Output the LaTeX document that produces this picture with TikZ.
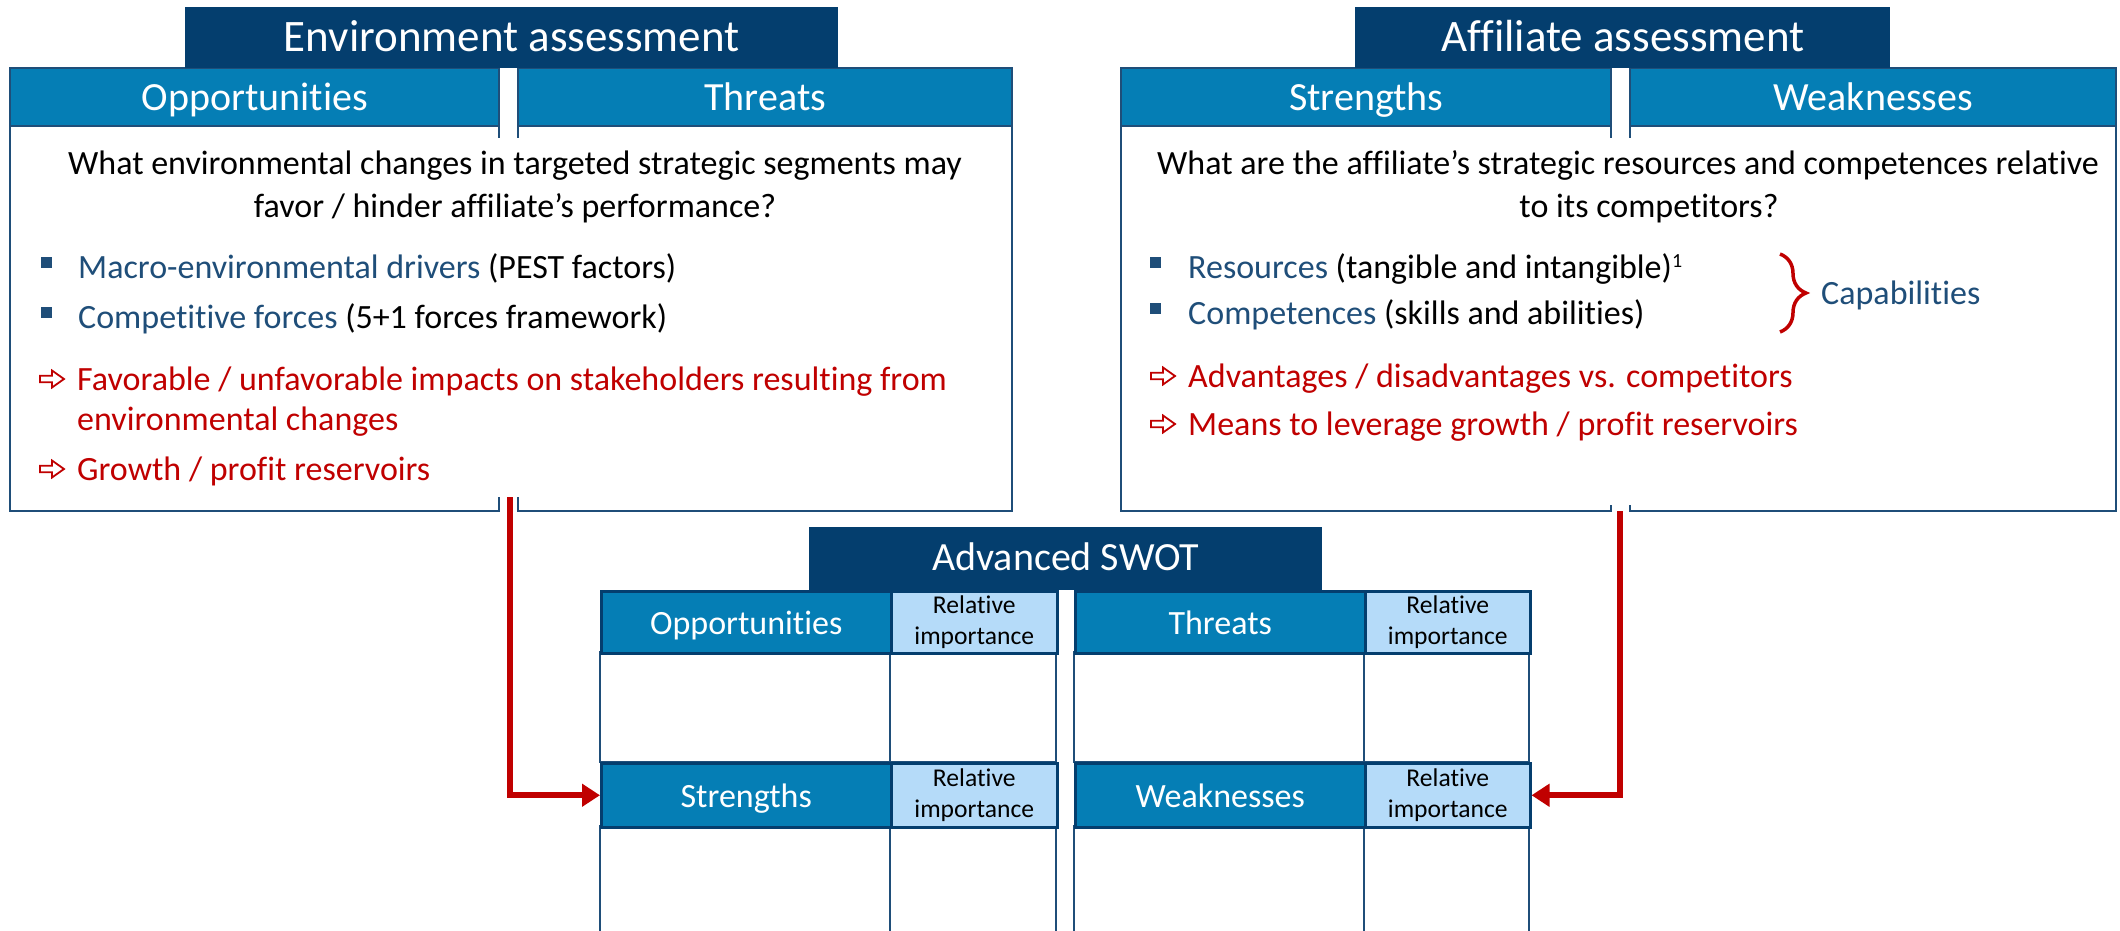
\documentclass[tikz,border=0pt]{standalone}
\usepackage{fontspec}
\setmainfont{Carlito}[Ligatures={NoCommon,NoRequired},Contextuals=NoAlternate]
\usetikzlibrary{arrows.meta,decorations.pathreplacing,calc}
\definecolor{darknavy}{HTML}{043E6E}
\definecolor{midblue}{HTML}{057EB5}
\definecolor{lightblue}{HTML}{B5DBF9}
\definecolor{framecol}{HTML}{1F4E79}
\definecolor{textnavy}{HTML}{1F4E79}
\definecolor{redc}{HTML}{C00000}
\begin{document}
\begin{tikzpicture}[x=1pt,y=-1pt,
  titlebox/.style={fill=darknavy, text=white, inner sep=0pt, anchor=north west,
    font=\fontsize{45}{54}\selectfont, text height=44pt, text depth=17pt},
  band/.style={fill=midblue, text=white, inner sep=0pt, anchor=north west,
    font=\fontsize{40}{48}\selectfont, text height=42pt, text depth=16pt},
  frameline/.style={draw=framecol, line width=2pt},
  bodytext/.style={inner sep=0pt, font=\fontsize{34}{41}\selectfont},
  redtext/.style={bodytext, text=redc, anchor=base west},
  bultext/.style={bodytext, anchor=base west},
  hdrcell/.style={fill=midblue, draw=darknavy, line width=2.5pt, text=white, inner sep=0pt,
    anchor=north west, font=\fontsize{34}{41}\selectfont, text height=43pt, text depth=19pt},
  relcell/.style={fill=lightblue, draw=darknavy, line width=2.5pt, text=black, inner sep=0pt,
    anchor=north west, align=center, font=\fontsize{25.6}{31}\selectfont},
  bodycell/.style={draw=framecol, line width=2pt, fill=white},
  redarrow/.style={draw=redc, line width=6pt, -{Triangle[length=18pt,width=22pt]}},
  harrow/.pic={\draw[redc, line width=1.8pt, fill=white, line join=miter]
    (-12,-3.2) -- (0,-3.2) -- (0,-8.5) -- (12,0) -- (0,8.5) -- (0,3.2) -- (-12,3.2) -- cycle;}
]
\useasboundingbox (0,0) rectangle (2120,931);
\fill[white] (0,0) rectangle (2120,931);
\clip (0,0) rectangle (2120,931);

% ---------- Environment assessment ----------
\node[band, minimum width=489pt] (opp) at (10,68) {Opportunities};
\node[band, minimum width=494pt] (thr) at (518,68) {Threats};
\draw[frameline] (opp.south west) -- (opp.south east);
\draw[frameline] (thr.south west) -- (thr.south east);
\draw[frameline] (499,138) -- (499,68) -- (10,68) -- (10,511) -- (499,511) -- (499,497);
\draw[frameline] (518,138) -- (518,68) -- (1012,68) -- (1012,511) -- (518,511) -- (518,497);
\node[titlebox, minimum width=653pt] (envT) at (185,7) {Environment assessment};

\node[bodytext, anchor=base] (q1a) at (515,175) {What environmental changes in targeted strategic segments may};
\node[bodytext, anchor=base] (q1b) at (515,217) {favor / hinder affiliate’s performance?};
\fill[textnavy] (41,257) rectangle (52,268);
\node[bultext] (m1) at (78,278) {\textcolor{textnavy}{Macro-environmental drivers} (PEST factors)};
\fill[textnavy] (41,307) rectangle (52,318);
\node[bultext] (m2) at (78,328) {\textcolor{textnavy}{Competitive forces} (5+1 forces framework)};
\pic at (52,379) {harrow};
\node[redtext] (r1) at (77,390) {Favorable / unfavorable impacts on stakeholders resulting from};
\node[redtext] (r1b) at (77,430) {environmental changes};
\pic at (52,469) {harrow};
\node[redtext] (r2) at (77,480) {Growth / profit reservoirs};

% ---------- Affiliate assessment ----------
\node[band, minimum width=490pt] (str) at (1121,68) {Strengths};
\node[band, minimum width=486pt] (wea) at (1630,68) {Weaknesses};
\draw[frameline] (str.south west) -- (str.south east);
\draw[frameline] (wea.south west) -- (wea.south east);
\draw[frameline] (1611,138) -- (1611,68) -- (1121,68) -- (1121,511) -- (1611,511) -- (1611,505);
\draw[frameline] (1630,138) -- (1630,68) -- (2116,68) -- (2116,511) -- (1630,511) -- (1630,505);
\node[titlebox, minimum width=535pt] (affT) at (1355,7) {Affiliate assessment};

\node[bodytext, anchor=base] (q2a) at (1628,175) {What are the affiliate’s strategic resources and competences relative};
\node[bodytext, anchor=base] (q2b) at (1649,217) {to its competitors?};
\fill[textnavy] (1150,257) rectangle (1161,268);
\node[bultext] (s1) at (1188,278) {\textcolor{textnavy}{Resources} (tangible and intangible)\raisebox{11pt}{\fontsize{20}{24}\selectfont 1}};
\fill[textnavy] (1150,303) rectangle (1161,314);
\node[bultext] (s2) at (1188,324) {\textcolor{textnavy}{Competences} (skills and abilities)};
\draw[redc, line width=3.5pt, decorate, decoration={brace, amplitude=26pt}] (1780,254) -- (1780,332);
\node[bultext, text=textnavy] (cap) at (1821,304) {Capabilities};
\pic at (1163,376) {harrow};
\node[redtext] (a1) at (1188,387) {Advantages / disadvantages vs. competitors};
\pic at (1163,424) {harrow};
\node[redtext] (a2) at (1188,435) {Means to leverage growth / profit reservoirs};

% ---------- Advanced SWOT ----------
\draw[bodycell] (600,652) rectangle (890,762);
\draw[bodycell] (890,652) rectangle (1056,762);
\draw[bodycell] (600,826) rectangle (890,960);
\draw[bodycell] (890,826) rectangle (1056,960);
\draw[bodycell] (1074,652) rectangle (1364,762);
\draw[bodycell] (1364,652) rectangle (1529,762);
\draw[bodycell] (1074,826) rectangle (1364,960);
\draw[bodycell] (1364,826) rectangle (1529,960);

\node[titlebox, minimum width=513pt, font=\fontsize{40}{48}\selectfont, text height=43pt, text depth=20pt] (swot) at (809,527) {Advanced SWOT};

\node[hdrcell, minimum width=290pt, minimum height=62pt] (oH) at (600,590) {Opportunities};
\node[relcell, minimum width=166pt, minimum height=62pt] (oR) at (890,590) {Relative\\importance};
\node[hdrcell, minimum width=290pt, minimum height=62pt] (tH) at (1074,590) {Threats};
\node[relcell, minimum width=165pt, minimum height=62pt] (tR) at (1364,590) {Relative\\importance};
\node[hdrcell, minimum width=290pt, minimum height=64pt] (sH) at (600,762) {Strengths};
\node[relcell, minimum width=166pt, minimum height=64pt] (sR) at (890,762) {Relative\\importance};
\node[hdrcell, minimum width=290pt, minimum height=64pt] (wH) at (1074,762) {Weaknesses};
\node[relcell, minimum width=165pt, minimum height=64pt] (wR) at (1364,762) {Relative\\importance};

% ---------- connectors ----------
\coordinate (envgap) at (510,497);
\coordinate (affgap) at (1620,511);
\draw[redarrow] (envgap) |- (sH.west);
\draw[redarrow] (affgap) |- (wR.east);
\end{tikzpicture}
\end{document}
